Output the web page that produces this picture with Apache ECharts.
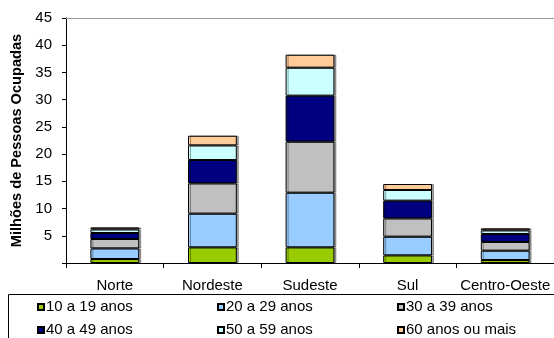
<!DOCTYPE html>
<html>
<head>
<meta charset="utf-8">
<script src="https://cdn.jsdelivr.net/npm/echarts@6/dist/echarts.min.js"></script>
<style>
  html, body { margin: 0; padding: 0; background: #fff; }
  #chart { width: 554px; height: 338px; }
</style>
</head>
<body>
<div id="chart"></div>
<script>
// Regiões
const regioes = ['Norte', 'Nordeste', 'Sudeste', 'Sul', 'Centro-Oeste'];

// Pessoas ocupadas por faixa etária (milhões)
const faixa10a19 = [0.73, 2.87, 2.87, 1.40, 0.55];
const faixa20a29 = [1.95, 6.19, 10.04, 3.43, 1.71];
const faixa30a39 = [1.73, 5.56, 9.37, 3.36, 1.60];
const faixa40a49 = [1.10, 4.30, 8.45, 3.25, 1.47];
const faixa50a59 = [0.66, 2.68, 5.14, 1.97, 0.66];
const faixa60mais = [0.37, 1.78, 2.39, 1.10, 0.37];

const nomesFaixas = ['10 a 19 anos', '20 a 29 anos', '30 a 39 anos',
                     '40 a 49 anos', '50 a 59 anos', '60 anos ou mais'];
const valoresFaixas = [faixa10a19, faixa20a29, faixa30a39, faixa40a49, faixa50a59, faixa60mais];
const cores = ['#99CC00', '#99CCFF', '#C0C0C0', '#000080', '#CCFFFF', '#FFCC99'];

const fonte = 'Arial, "Liberation Sans", sans-serif';

const chart = echarts.init(document.getElementById('chart'), null, { renderer: 'canvas' });

chart.setOption({
  animation: false,
  backgroundColor: '#ffffff',
  grid: { left: 66, right: 0, top: 18, bottom: 75, containLabel: false },
  xAxis: [{
    type: 'category',
    data: regioes,
    axisLine: { show: true, lineStyle: { color: '#000', width: 1 } },
    axisTick: { show: true, length: 5, lineStyle: { color: '#000' } },
    axisLabel: { color: '#000', fontFamily: fonte, fontSize: 15, margin: 15, interval: 0 }
  }, {
    type: 'category',
    position: 'top',
    data: regioes,
    axisLine: { show: true, lineStyle: { color: '#999', width: 1 } },
    axisTick: { show: false },
    axisLabel: { show: false }
  }],
  yAxis: {
    type: 'value',
    min: 0, max: 45, interval: 5,
    name: 'Milhões de Pessoas Ocupadas',
    nameLocation: 'middle',
    nameGap: 41,
    nameTextStyle: { color: '#000', fontFamily: fonte, fontSize: 14.6, fontWeight: 'bold' },
    axisLine: { show: true, lineStyle: { color: '#000', width: 1 } },
    axisTick: { show: true, length: 4, lineStyle: { color: '#000' } },
    splitLine: { show: false },
    axisLabel: {
      color: '#000', fontFamily: fonte, fontSize: 15, margin: 14,
      formatter: v => (v === 0 ? '' : String(v))
    }
  },
  legend: {
    left: 37, top: 299, width: 540,
    padding: 0,
    orient: 'horizontal',
    icon: 'rect',
    itemWidth: 6, itemHeight: 6,
    itemGap: 7,
    data: nomesFaixas,
    textStyle: { color: '#000', fontFamily: fonte, fontSize: 15, width: 164, lineHeight: 16, padding: [0, 0, 0, -3] }
  },
  graphic: [{
    type: 'rect',
    shape: { x: 8.5, y: 294.5, width: 560, height: 60 },
    style: { fill: 'none', stroke: '#000', lineWidth: 1 },
    silent: true
  }],
  series: nomesFaixas.map((nome, i) => ({
    name: nome,
    type: 'bar',
    stack: 'total',
    barWidth: '50%',
    data: valoresFaixas[i],
    itemStyle: {
      color: cores[i], borderColor: '#000', borderWidth: 1,
      shadowColor: 'rgba(0,0,0,0.35)', shadowOffsetX: 2, shadowOffsetY: 0, shadowBlur: 0
    }
  }))
});
</script>
</body>
</html>
